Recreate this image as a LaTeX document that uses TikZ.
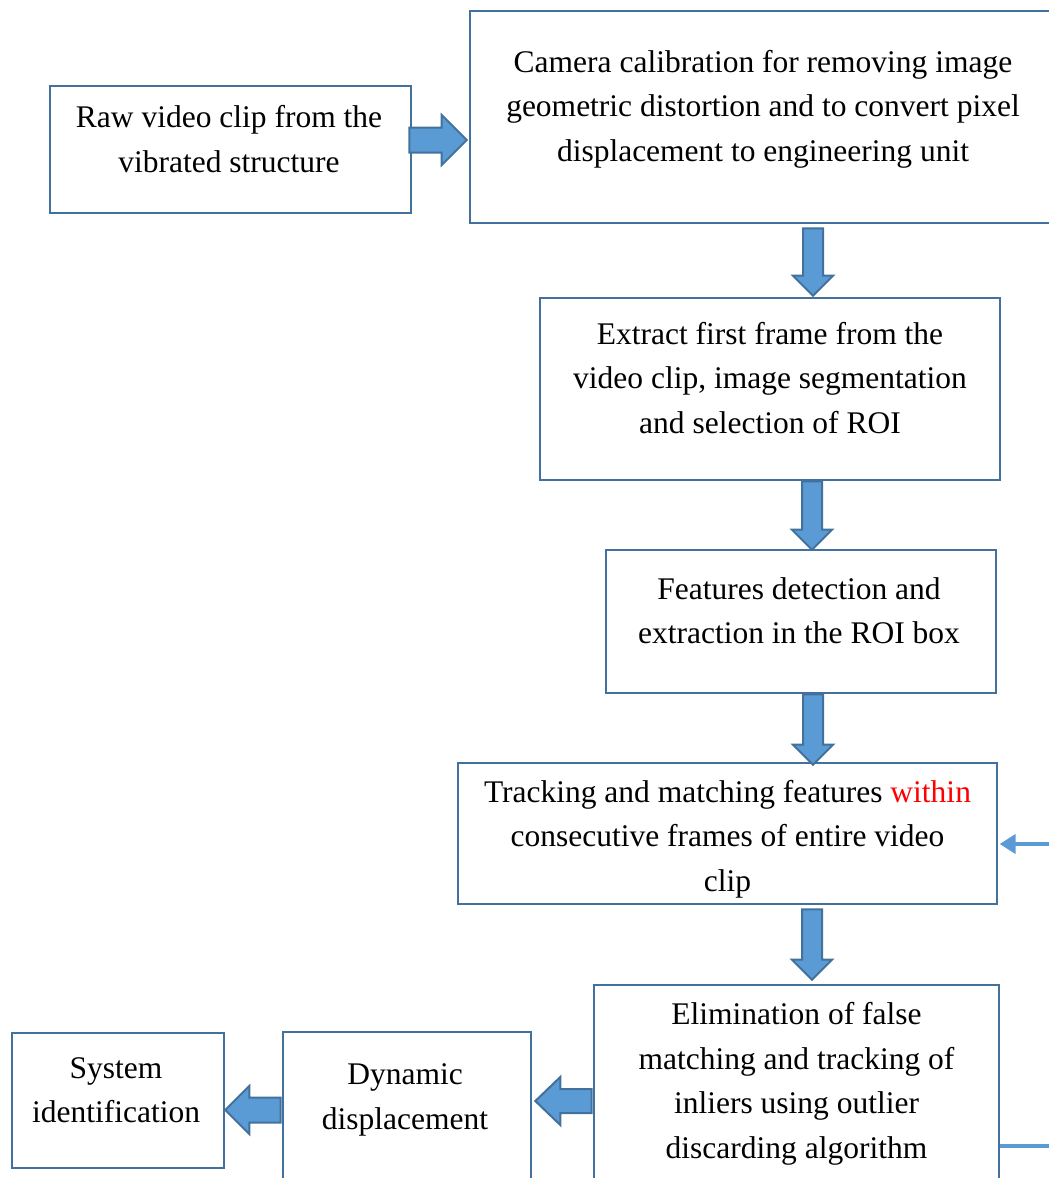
\documentclass[tikz,border=0pt]{standalone}
\usepackage{fontspec}
\setmainfont{Liberation Serif}
\usetikzlibrary{calc,arrows.meta}
\definecolor{bordc}{HTML}{41719C}
\definecolor{arrfill}{HTML}{5B9BD5}
\definecolor{redtxt}{HTML}{FF0000}
\tikzset{
  boxnode/.style={draw=bordc, line width=2.6pt, rectangle, inner sep=0pt},
  lbl/.style={align=center, inner sep=0pt, font=\fontsize{31.5}{44.5}\selectfont},
  blk/.style={draw=bordc, fill=arrfill, line width=2pt, line join=miter},
  fbline/.style={draw=arrfill, line width=4.5pt},
}
% vertical block arrow: #1 x, #2 from anchor, #3 to anchor, #4 start gap, #5 tip gap
\newcommand\varr[5]{\draw[blk] let \p1=(#2), \p2=(#3), \n1={\y1-(#4)}, \n2={\y2+(#5)} in
  (#1-10,\n1) -- (#1-10,\n2+20) -- (#1-20,\n2+20) -- (#1,\n2) -- (#1+20,\n2+20) -- (#1+10,\n2+20) -- (#1+10,\n1) -- cycle;}
% horizontal block arrow: #1 y, #2 start point, #3 tip point, #4 shaft half, #5 head half, #6 signed head length
\newcommand\harr[6]{\draw[blk] let \p1=#2, \p2=#3, \n1={\x2-(#6)} in
  (\x1,#1-#4) -- (\n1,#1-#4) -- (\n1,#1-#5) -- (\x2,#1) -- (\n1,#1+#5) -- (\n1,#1+#4) -- (\x1,#1+#4) -- cycle;}
\begin{document}
\begin{tikzpicture}[x=1pt,y=1pt]
\useasboundingbox (0,0) rectangle (1049,-1178);
% boxes
\node[boxnode, minimum width=361, minimum height=127] (b1) at (230.5,-149.5) {};
\node[boxnode, minimum width=586, minimum height=212] (b2) at (763,-117) {};
\node[boxnode, minimum width=460, minimum height=182] (b3) at (770,-389) {};
\node[boxnode, minimum width=390, minimum height=143] (b4) at (801,-621.5) {};
\node[boxnode, minimum width=539, minimum height=141] (b5) at (727.5,-833.5) {};
\node[boxnode, minimum width=405, minimum height=215] (b6) at (796.5,-1092.5) {};
\node[boxnode, minimum width=248, minimum height=168] (b7) at (407,-1116) {};
\node[boxnode, minimum width=212, minimum height=135] (b8) at (118,-1100.5) {};
% texts
\node[lbl] (t1) at (229,-139) {Raw video clip from the\\vibrated structure};
\node[lbl] (t2) at (763,-109) {Camera calibration for removing image\\geometric distortion and to convert pixel\\displacement to engineering unit};
\node[lbl] (t3) at (770,-378) {Extract first frame from the\\video clip, image segmentation\\and selection of ROI};
\node[lbl] (t4) at (799,-610.5) {Features detection and\\extraction in the ROI box};
\node[lbl] (t5) at (727.5,-839) {Tracking and matching features \textcolor{redtxt}{within}\\consecutive frames of entire video\\clip};
\node[lbl] (t6) at (796.5,-1084) {Elimination of false\\matching and tracking of\\inliers using outlier\\discarding algorithm};
\node[lbl] (t7) at (405,-1100) {Dynamic\\displacement};
\node[lbl] (t8) at (116,-1090) {System\\identification};
% block arrows
\harr{-140}{($(b1.east)+(-3,0)$)}{($(b2.west)+(-2,0)$)}{12.5}{25}{25}
\varr{813}{b2.south}{b3.north}{4}{1}
\varr{812}{b3.south}{b4.north}{0}{-1}
\varr{813}{b4.south}{b5.north}{0}{-3}
\varr{812}{b5.south}{b6.north}{4}{4}
\harr{-1101}{($(b6.west)+(-1,0)$)}{($(b7.east)+(3,0)$)}{12}{24}{-25}
\harr{-1110}{($(b7.west)+(-1,0)$)}{($(b8.east)+(0,0)$)}{12.5}{24}{-24}
% feedback lines at right edge
\coordinate (fb1) at (1060,-844);
\coordinate (fb2) at (1060,-1146);
\draw[fbline, -{Triangle[length=16pt,width=19pt]}] (fb1) -- ($(b5.east |- fb1)+(1.3,0)$);
\draw[fbline] (b6.east |- fb2) -- (fb2);
\end{tikzpicture}
\end{document}
